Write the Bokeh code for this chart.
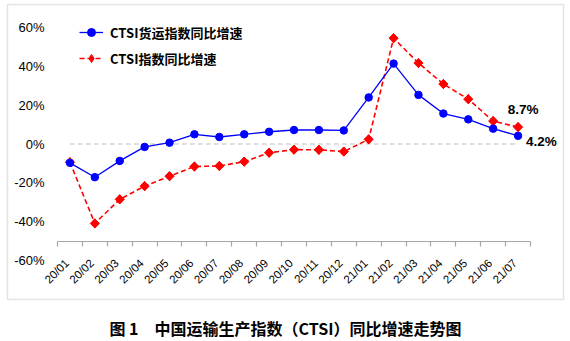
import math
from bokeh.plotting import figure
from bokeh.models import (LinearAxis, FixedTicker, PrintfTickFormatter, Range1d,
                          Legend, LegendItem, Label, BoxAnnotation)
from bokeh.embed import file_html
from bokeh.resources import INLINE

categories = ["20/01", "20/02", "20/03", "20/04", "20/05", "20/06", "20/07", "20/08",
              "20/09", "20/10", "20/11", "20/12", "21/01", "21/02", "21/03", "21/04",
              "21/05", "21/06", "21/07"]
freight_yoy = [-9.7, -17.1, -8.7, -1.5, 0.7, 5.0, 3.6, 5.0, 6.3, 7.2, 7.2, 7.0,
               24.0, 41.4, 25.3, 15.7, 12.7, 7.9, 4.2]
ctsi_yoy = [-9.4, -40.9, -28.5, -21.7, -16.6, -11.6, -11.3, -9.1, -4.5, -2.9, -3.0, -3.9,
            2.4, 54.5, 41.7, 30.9, 23.1, 11.8, 8.7]
zero_ref = [0, 0, 0, 0, 0, 0, 0, 0, 0, 0, 0, 0, 0, 0, 0, 0, 0, 0, 0]
y_ticks = [-60, -40, -20, 0, 20, 40, 60]
axis_cross = -50
label_freight = "CTSI货运指数同比增速"
label_ctsi = "CTSI指数同比增速"
caption = "图 1\u3000中国运输生产指数（CTSI）同比增速走势图"

n = len(categories)
xs = [i + 0.5 for i in range(n)]

CJK = "Noto Sans CJK SC"
LAT = "Liberation Sans"

W, H = 570, 341
# plot area (pixels) that holds the categories and the -60..60 value span
PX_L, PX_R, PX_T, PX_B = 57, 530, 27, 260
ux = n / (PX_R - PX_L)
uy = 120 / (PX_B - PX_T)
x_range = Range1d(0 - PX_L * ux, n + (W - PX_R) * ux)
y_range = Range1d(-60 - (H - PX_B) * uy, 60 + PX_T * uy)

p = figure(width=W, height=H, x_range=x_range, y_range=y_range,
           output_backend="svg", toolbar_location=None,
           x_axis_type=None, y_axis_type=None, min_border=0)
p.outline_line_color = None
p.background_fill_color = "white"
p.border_fill_color = "white"

yax = LinearAxis(ticker=FixedTicker(ticks=y_ticks), fixed_location=0,
                 formatter=PrintfTickFormatter(format="%d%%"),
                 axis_line_color=None, major_tick_line_color=None,
                 minor_tick_line_color=None, major_label_standoff=7,
                 major_label_text_font=LAT, major_label_text_font_size="13px",
                 major_label_text_color="black")
p.add_layout(yax, "left")

tick_ax = LinearAxis(ticker=FixedTicker(ticks=list(range(n + 1))),
                     fixed_location=axis_cross, bounds=(0, n),
                     axis_line_color="#A6A6A6", axis_line_width=1.2,
                     major_tick_line_color="#A6A6A6", major_tick_line_width=1.2,
                     major_tick_in=0, major_tick_out=5, minor_tick_line_color=None,
                     major_label_text_color=None)
p.add_layout(tick_ax, "below")

shift = -0.12
p.extra_x_ranges = {"labels": Range1d(x_range.start - shift, x_range.end - shift)}
lab_ax = LinearAxis(x_range_name="labels", ticker=FixedTicker(ticks=xs),
                    major_label_overrides={x: c for x, c in zip(xs, categories)},
                    fixed_location=axis_cross, axis_line_color=None,
                    major_tick_line_color=None, major_tick_in=0, major_tick_out=0,
                    minor_tick_line_color=None,
                    major_label_orientation=math.pi / 4, major_label_standoff=20,
                    major_label_text_font=LAT, major_label_text_font_size="11.5px",
                    major_label_text_color="black")
p.add_layout(lab_ax, "below")

p.line(xs, zero_ref, line_color="#BFBFBF", line_width=1, line_dash="5 3")

rl = p.line(xs, ctsi_yoy, line_color="#FF0000", line_width=1.6, line_dash="5 3")
rd = p.scatter(xs, ctsi_yoy, marker="diamond", size=9,
               fill_color="#FF0000", line_color="#FF0000")
rs = p.scatter(xs, ctsi_yoy, marker="square", angle=math.pi / 4, size=6.5,
               fill_color="#FF0000", line_color="#FF0000")
bl = p.line(xs, freight_yoy, line_color="#0000FF", line_width=1.3)
bs = p.scatter(xs, freight_yoy, marker="circle", size=7.5,
               fill_color="#0000FF", line_color="#0000FF")

legend = Legend(items=[LegendItem(label=label_freight, renderers=[bl, bs]),
                       LegendItem(label=label_ctsi, renderers=[rl, rd])],
                location=(79, H - 68), orientation="vertical", padding=0, margin=0,
                spacing=6, label_height=20, glyph_height=20, glyph_width=24,
                label_standoff=7, background_fill_alpha=0, border_line_color=None,
                label_text_font=CJK, label_text_font_size="13px",
                label_text_font_style="bold", label_text_color="black")
p.add_layout(legend)

p.add_layout(Label(x=xs[-1], y=ctsi_yoy[-1], text=f"{ctsi_yoy[-1]}%", x_offset=5,
                   y_offset=18, text_align="center", text_baseline="middle",
                   text_font=LAT, text_font_size="13.5px", text_font_style="bold",
                   text_color="black"))
p.add_layout(Label(x=xs[-1], y=freight_yoy[-1], text=f"{freight_yoy[-1]}%", x_offset=8,
                   y_offset=-6, text_align="left", text_baseline="middle",
                   text_font=LAT, text_font_size="13.5px", text_font_style="bold",
                   text_color="black"))

p.add_layout(BoxAnnotation(left=7, right=563, top=H - 4, bottom=H - 299,
                           left_units="screen", right_units="screen",
                           top_units="screen", bottom_units="screen",
                           fill_alpha=0, line_color="#A6A6A6", line_width=1.5,
                           level="underlay"))

p.add_layout(Label(x=W / 2, y=H - 327, x_units="screen", y_units="screen", text=caption,
                   text_align="center", text_baseline="middle", text_font=CJK,
                   text_font_size="16px", text_font_style="bold", text_color="black"))

open("out.html", "w").write(file_html(p, INLINE))
